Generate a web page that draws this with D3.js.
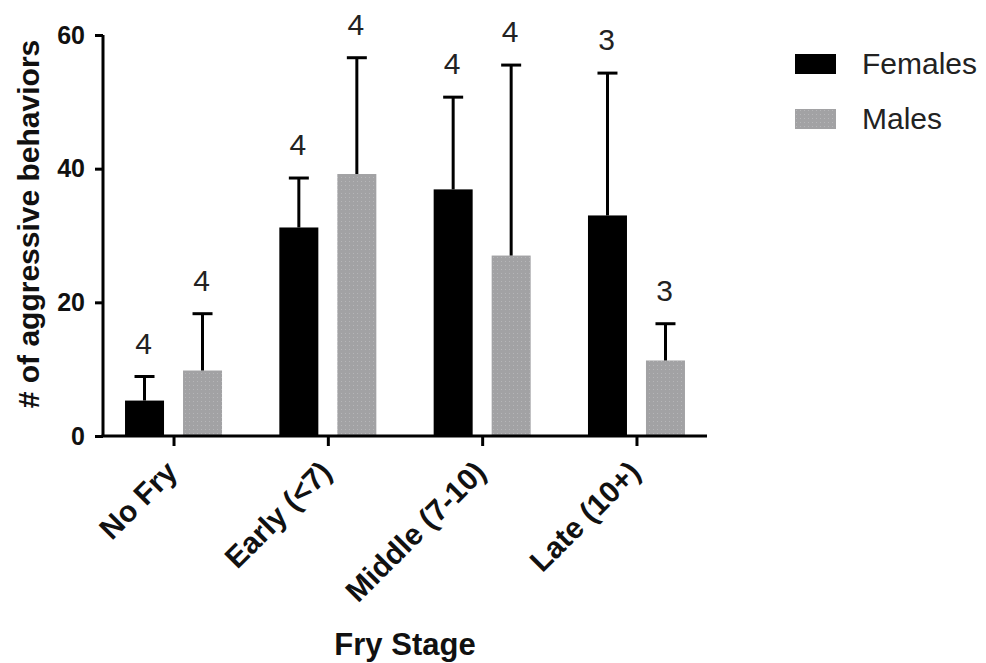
<!DOCTYPE html>
<html>
<head>
<meta charset="utf-8">
<script src="https://cdn.jsdelivr.net/npm/d3@7"></script>
<style>
  body { margin: 0; background: #fff; }
  text { font-family: "Liberation Sans", Arial, sans-serif; }
</style>
</head>
<body>
<svg id="chart" width="986" height="663"></svg>
<script>
// data
const stages = ['No Fry', 'Early (<7)', 'Middle (7-10)', 'Late (10+)'];
const series = ['Females', 'Males'];
const femaleMean = [5.3, 31.2, 36.9, 33.0];
const femaleSD = [3.6, 7.4, 13.8, 21.3];
const maleMean = [9.8, 39.2, 27.0, 11.3];
const maleSD = [8.5, 17.4, 28.5, 5.5];
const femaleN = [4, 4, 4, 3];
const maleN = [4, 4, 4, 3];
const yTicks = [0, 20, 40, 60];

const colors = { Females: '#000000', Males: '#a2a2a4' };

const svg = d3.select('#chart');

const defs = svg.append('defs');
const pat = defs.append('pattern')
  .attr('id', 'dots')
  .attr('width', 4).attr('height', 4)
  .attr('patternUnits', 'userSpaceOnUse');
pat.append('rect').attr('width', 4).attr('height', 4).attr('fill', colors.Males);
pat.append('rect').attr('x', 1).attr('y', 1).attr('width', 1).attr('height', 1).attr('fill', '#b6b6b8');

const x0 = 103, x1 = 707, yTop = 35, yBot = 436;

const x = d3.scalePoint().domain(stages).range([x0, x1]).padding(0.457);
const sub = d3.scaleOrdinal().domain(series).range([-29, 29]);
const y = d3.scaleLinear().domain([0, 60]).range([yBot, yTop]);
const barW = 39;

const rows = [];
stages.forEach((s, i) => {
  rows.push({ stage: s, key: 'Females', mean: femaleMean[i], sd: femaleSD[i], n: femaleN[i] });
  rows.push({ stage: s, key: 'Males', mean: maleMean[i], sd: maleSD[i], n: maleN[i] });
});

const g = svg.append('g');

// bars
g.selectAll('rect.bar')
  .data(rows)
  .join('rect')
  .attr('class', 'bar')
  .attr('x', (d) => x(d.stage) + sub(d.key) - barW / 2)
  .attr('y', (d) => y(d.mean))
  .attr('width', barW)
  .attr('height', (d) => y(0) - y(d.mean))
  .attr('fill', (d) => d.key === 'Males' ? 'url(#dots)' : colors.Females);

// error bars (upper only)
const err = g.selectAll('g.err').data(rows).join('g').attr('class', 'err');
err.append('line')
  .attr('x1', (d) => x(d.stage) + sub(d.key))
  .attr('x2', (d) => x(d.stage) + sub(d.key))
  .attr('y1', (d) => y(d.mean))
  .attr('y2', (d) => y(d.mean + d.sd))
  .attr('stroke', '#000').attr('stroke-width', 3);
err.append('line')
  .attr('x1', (d) => x(d.stage) + sub(d.key) - 10)
  .attr('x2', (d) => x(d.stage) + sub(d.key) + 10)
  .attr('y1', (d) => y(d.mean + d.sd))
  .attr('y2', (d) => y(d.mean + d.sd))
  .attr('stroke', '#000').attr('stroke-width', 3);

// n labels
g.selectAll('text.n')
  .data(rows)
  .join('text')
  .attr('class', 'n')
  .attr('x', (d) => x(d.stage) + sub(d.key) - 1)
  .attr('y', (d) => y(d.mean + d.sd) - 23)
  .attr('text-anchor', 'middle')
  .attr('font-size', 30)
  .attr('fill', '#222')
  .text((d) => d.n);

// y axis
const yAxis = svg.append('g')
  .attr('transform', `translate(${x0},0)`)
  .call(d3.axisLeft(y).tickValues(yTicks).tickSize(8).tickPadding(10));
yAxis.select('.domain').attr('stroke-width', 3).attr('d', `M0,${yTop}V${yBot}`);
yAxis.selectAll('.tick line').attr('stroke-width', 3);
yAxis.selectAll('.tick text')
  .attr('font-size', 25).attr('font-weight', 'bold')
  .attr('font-family', '"Liberation Sans", Arial, sans-serif')
  .attr('fill', '#111');

// x axis
const xAxis = svg.append('g')
  .attr('transform', `translate(0,${yBot})`)
  .call(d3.axisBottom(x).tickSize(10).tickPadding(0));
xAxis.select('.domain').attr('stroke-width', 3).attr('d', `M${x0 - 1.5},0H${x1}`);
xAxis.selectAll('.tick line').attr('stroke-width', 3);
xAxis.selectAll('.tick text')
  .attr('font-size', 30).attr('font-weight', 'bold')
  .attr('font-family', '"Liberation Sans", Arial, sans-serif')
  .attr('fill', '#111')
  .attr('text-anchor', 'end')
  .attr('y', 0)
  .attr('dy', 0)
  .attr('transform', 'translate(5,38) rotate(-45)');

// axis titles
svg.append('text')
  .attr('transform', `translate(39,${224}) rotate(-90)`)
  .attr('text-anchor', 'middle')
  .attr('font-size', 30).attr('font-weight', 'bold')
  .attr('fill', '#111')
  .text('# of aggressive behaviors');

svg.append('text')
  .attr('x', (x0 + x1) / 2)
  .attr('y', 655)
  .attr('text-anchor', 'middle')
  .attr('font-size', 31).attr('font-weight', 'bold')
  .attr('fill', '#111')
  .text('Fry Stage');

// legend
const leg = svg.append('g').attr('transform', 'translate(795,54)');
const li = leg.selectAll('g').data(series).join('g')
  .attr('transform', (d, i) => `translate(0,${i * 55})`);
li.append('rect')
  .attr('width', 41).attr('height', 20)
  .attr('fill', (d) => d === 'Males' ? 'url(#dots)' : colors.Females);
li.append('text')
  .attr('x', 67).attr('y', 20)
  .attr('font-size', 30)
  .attr('fill', '#222')
  .text((d) => d);
</script>
</body>
</html>
